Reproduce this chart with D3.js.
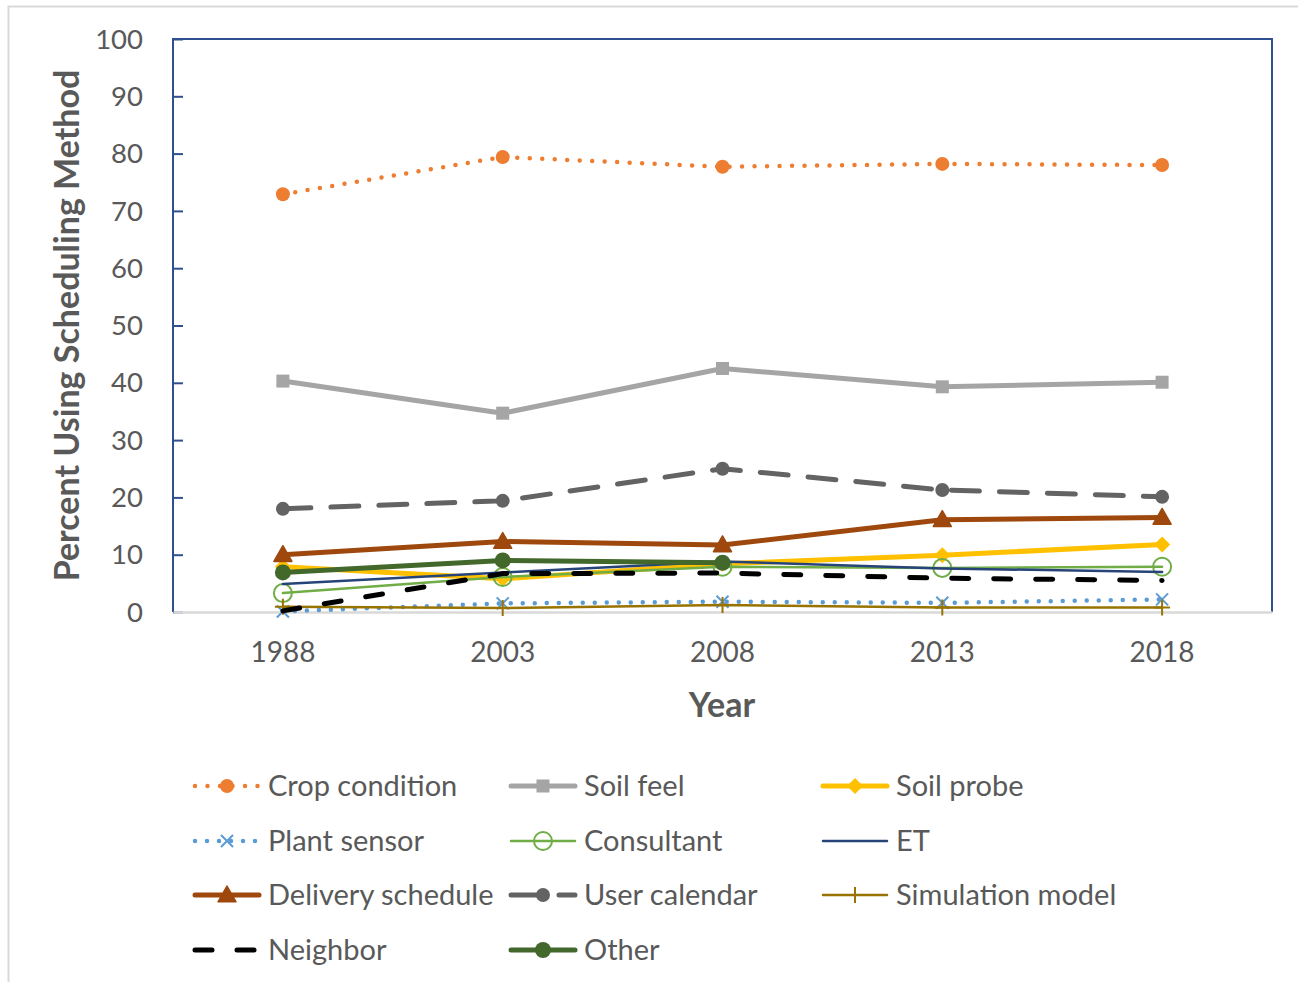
<!DOCTYPE html>
<html>
<head>
<meta charset="utf-8">
<script src="https://cdn.jsdelivr.net/npm/d3@7"></script>
<style>
  html, body { margin: 0; padding: 0; background: #fff; }
  svg { display: block; font-family: Lato, "Open Sans", sans-serif; }
</style>
</head>
<body>
<svg id="chart" width="1298" height="982"></svg>
<script>
// Survey years and share of respondents using each irrigation scheduling method (%)
const years = ["1988", "2003", "2008", "2013", "2018"];
const cropCondition    = [72.9, 79.4, 77.7, 78.2, 78.0];
const soilFeel         = [40.3, 34.7, 42.5, 39.3, 40.1];
const soilProbe        = [7.9, 5.8, 8.4, 9.9, 11.8];
const plantSensor      = [0.1, 1.5, 1.8, 1.6, 2.2];
const consultant       = [3.3, 6.1, 7.9, 7.7, 7.9];
const et               = [4.9, 6.9, 8.8, 7.6, 7.0];
const deliverySchedule = [10.0, 12.3, 11.7, 16.1, 16.5];
const userCalendar     = [18.0, 19.4, 25.0, 21.3, 20.1];
const simulationModel  = [0.9, 0.7, 1.2, 0.8, 0.8];
const neighbor         = [0.2, 6.7, 6.8, 5.9, 5.5];
const other            = [6.9, 9.0, 8.6, null, null];
const yTicks = [0, 10, 20, 30, 40, 50, 60, 70, 80, 90, 100];

// Series appearance, in drawing order
const series = [
  { name: "Crop condition",    values: cropCondition,    color: "#ED7D31", width: 4.5, dash: "0 12.5", marker: "circle", size: 7 },
  { name: "Soil feel",         values: soilFeel,         color: "#A5A5A5", width: 5,   dash: null,     marker: "square", size: 6.5 },
  { name: "Soil probe",        values: soilProbe,        color: "#FFC000", width: 5,   dash: null,     marker: "diamond", size: 8 },
  { name: "Plant sensor",      values: plantSensor,      color: "#5B9BD5", width: 4.5, dash: "0 12",   marker: "x", size: 6 },
  { name: "Consultant",        values: consultant,       color: "#70AD47", width: 2.5, dash: null,     marker: "ring", size: 9 },
  { name: "ET",                values: et,               color: "#264478", width: 2.5, dash: null,     marker: null },
  { name: "Delivery schedule", values: deliverySchedule, color: "#9E480E", width: 5,   dash: null,     marker: "triangle", size: 9 },
  { name: "User calendar",     values: userCalendar,     color: "#636363", width: 5,   dash: "28 20",  marker: "circle", size: 7 },
  { name: "Simulation model",  values: simulationModel,  color: "#997300", width: 2.5, dash: null,     marker: "plus", size: 8 },
  { name: "Neighbor",          values: neighbor,         color: "#000000", width: 5,   dash: "17 25",  marker: null },
  { name: "Other",             values: other,            color: "#43682B", width: 5,   dash: null,     marker: "circle", size: 8 }
];

const svg = d3.select("#chart");
const plot = { left: 173, right: 1272, top: 39, bottom: 612 };

// Outer chart frame
svg.append("rect")
  .attr("x", 8.5).attr("y", 6.5).attr("width", 1320).attr("height", 1000)
  .attr("fill", "#fff").attr("stroke", "#D9D9D9").attr("stroke-width", 2);

const x = d3.scaleBand().domain(years).range([plot.left, plot.right]);
const y = d3.scaleLinear().domain([0, 100]).range([plot.bottom, plot.top]);
const cx = d => x(d) + x.bandwidth() / 2;

// Plot area border (top, right, left in dark blue)
svg.append("path")
  .attr("d", `M${plot.left},${plot.bottom} V${plot.top} H${plot.right} V${plot.bottom}`)
  .attr("fill", "none").attr("stroke", "#2F4F8F").attr("stroke-width", 2);

// Y axis with inward ticks
const yAxis = svg.append("g")
  .attr("transform", `translate(${plot.left},0)`)
  .call(d3.axisRight(y).tickValues(yTicks).tickSize(10).tickFormat(""));
yAxis.select(".domain").remove();
yAxis.selectAll("line").attr("stroke", "#2F4F8F").attr("stroke-width", 2);

svg.append("g").selectAll("text").data(yTicks).join("text")
  .attr("x", 143).attr("y", d => y(d)).attr("dy", "0.35em")
  .attr("text-anchor", "end").attr("font-size", 27.5).attr("fill", "#595959")
  .text(d => d);

// X axis
const xAxis = svg.append("g")
  .attr("transform", `translate(0,${plot.bottom})`)
  .call(d3.axisBottom(x).tickSize(0).tickPadding(30));
xAxis.select(".domain").attr("stroke", "#D9D9D9").attr("stroke-width", 2.5);
xAxis.selectAll("text").attr("font-size", 28).attr("fill", "#595959")
  .attr("font-family", "Lato, 'Open Sans', sans-serif");

// Axis titles
svg.append("text")
  .attr("x", 722).attr("y", 717).attr("text-anchor", "middle")
  .attr("font-size", 34).attr("font-weight", "bold").attr("fill", "#595959")
  .text("Year");
svg.append("text")
  .attr("transform", `translate(79,${(plot.top + plot.bottom) / 2 + 0}) rotate(-90)`)
  .attr("text-anchor", "middle")
  .attr("font-size", 34).attr("font-weight", "bold").attr("fill", "#595959")
  .text("Percent Using Scheduling Method");

// Marker drawing
function drawMarker(g, s, px, py) {
  const r = s.size;
  if (!s.marker) return;
  if (s.marker === "circle") {
    g.append("circle").attr("cx", px).attr("cy", py).attr("r", r).attr("fill", s.color);
  } else if (s.marker === "ring") {
    g.append("circle").attr("cx", px).attr("cy", py).attr("r", r)
      .attr("fill", "none").attr("stroke", s.color).attr("stroke-width", 2);
  } else if (s.marker === "square") {
    g.append("rect").attr("x", px - r).attr("y", py - r).attr("width", 2 * r).attr("height", 2 * r)
      .attr("fill", s.color);
  } else if (s.marker === "diamond") {
    g.append("path").attr("d", `M${px},${py - r} L${px + r},${py} L${px},${py + r} L${px - r},${py} Z`)
      .attr("fill", s.color);
  } else if (s.marker === "triangle") {
    g.append("path").attr("d", `M${px},${py - r} L${px + r},${py + r * 0.75} L${px - r},${py + r * 0.75} Z`)
      .attr("fill", s.color).attr("stroke", s.color).attr("stroke-width", 1.5).attr("stroke-linejoin", "round");
  } else if (s.marker === "x") {
    g.append("path").attr("d", `M${px - r},${py - r} L${px + r},${py + r} M${px - r},${py + r} L${px + r},${py - r}`)
      .attr("stroke", s.color).attr("stroke-width", 2);
  } else if (s.marker === "plus") {
    g.append("path").attr("d", `M${px},${py - r} V${py + r} M${px - r},${py} H${px + r}`)
      .attr("stroke", s.color).attr("stroke-width", 2);
  }
}

const line = d3.line()
  .defined(d => d.v != null)
  .x(d => cx(d.year))
  .y(d => y(d.v));

const marks = svg.append("g");
series.forEach(s => {
  const g = marks.append("g");
  const pts = years.map((yr, i) => ({ year: yr, v: s.values[i] }));
  g.append("path").datum(pts)
    .attr("d", line)
    .attr("fill", "none").attr("stroke", s.color).attr("stroke-width", s.width)
    .attr("stroke-linecap", "round").attr("stroke-linejoin", "round")
    .attr("stroke-dasharray", s.dash);
  pts.filter(p => p.v != null).forEach(p => drawMarker(g, s, cx(p.year), y(p.v)));
});

// Legend: three columns, filled row by row
const legendCols = [192, 508, 820];
const legendRows = [786, 841, 895, 950];
const swatchW = 70;
const legend = svg.append("g");
series.forEach((s, i) => {
  const lx = legendCols[i % 3];
  const ly = legendRows[Math.floor(i / 3)];
  const g = legend.append("g");
  g.append("line")
    .attr("x1", lx + 3).attr("x2", lx + swatchW - 3).attr("y1", ly).attr("y2", ly)
    .attr("stroke", s.color).attr("stroke-width", s.width)
    .attr("stroke-linecap", "round").attr("stroke-dasharray", s.dash);
  drawMarker(g, s, lx + swatchW / 2, ly);
  g.append("text")
    .attr("x", lx + swatchW + 6).attr("y", ly).attr("dy", "0.35em")
    .attr("font-size", 29).attr("fill", "#595959")
    .text(s.name);
});
</script>
</body>
</html>
